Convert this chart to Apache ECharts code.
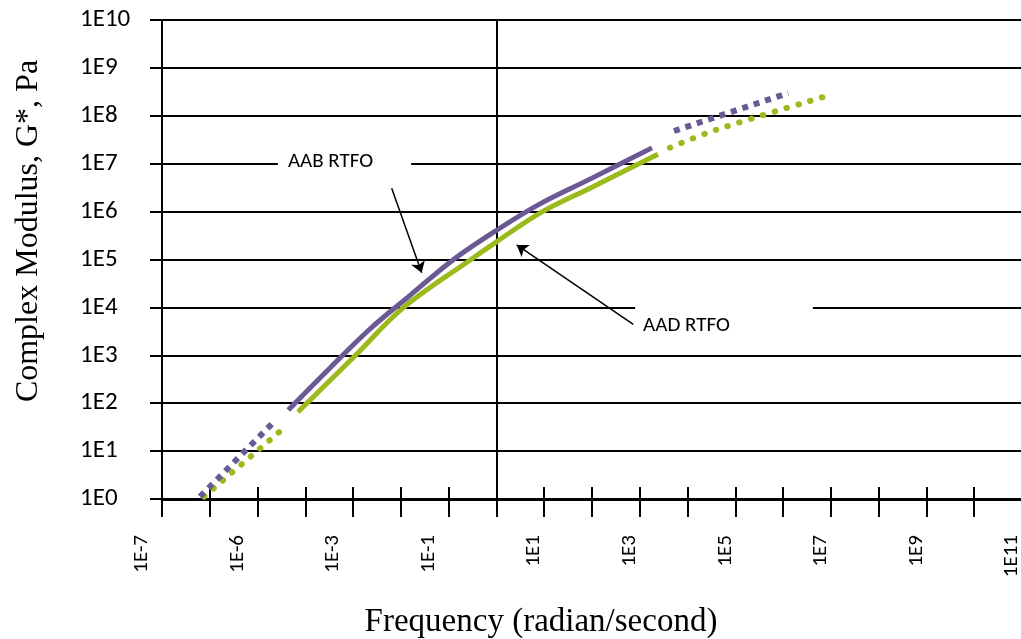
<!DOCTYPE html>
<html>
<head>
<meta charset="utf-8">
<script src="https://cdn.jsdelivr.net/npm/echarts@6/dist/echarts.min.js"></script>
<style>
  html, body { margin: 0; padding: 0; background: #ffffff; }
  #chart { width: 1021px; height: 639px; }
</style>
</head>
<body>
<div id="chart"></div>
<script>
// Master curves of complex modulus |G*| (Pa) against reduced frequency (rad/s).
// AAB RTFO: low-frequency extension, measured range, high-frequency extension
const aabLowFreq  = [6.24e-7, 2.21e-5];
const aabLowG     = [1.12, 41.1];
const aabFreq     = [4.40e-5, 3.16e-4, 2.25e-3, 1.58e-2, 0.123, 1.03, 8.15, 100, 1800];
const aabG        = [72.1, 525, 3540, 1.81e4, 9.8e4, 4.13e5, 1.45e6, 5.0e6, 2.14e7];
const aabHighFreq = [5200, 1.28e6];
const aabHighG    = [4.82e7, 2.99e8];

// AAD RTFO: low-frequency extension, measured range, high-frequency extension
const aadLowFreq  = [7.57e-7, 4.28e-5];
const aadLowG     = [1.12, 35.6];
const aadFreq     = [7.01e-5, 1.10e-3, 1.11e-2, 0.282, 1.0, 8.15, 100, 2400];
const aadG        = [65.5, 980, 9770, 9.8e4, 2.34e5, 9.3e5, 3.24e6, 1.58e7];
const aadHighFreq = [4290, 3.87e4, 1.09e7];
const aadHighG    = [2.16e7, 5.06e7, 2.81e8];

// Axis tick labels (one tick per decade)
const xLabelExponents = [-7, -5, -3, -1, 1, 3, 5, 7, 9, 11];
const xLabelTexts     = ['1E-7', '1E-6', '1E-3', '1E-1', '1E1', '1E3', '1E5', '1E7', '1E9', '1E11'];
const yLabelTexts     = ['1E0', '1E1', '1E2', '1E3', '1E4', '1E5', '1E6', '1E7', '1E8', '1E9', '1E10'];

const PURPLE = '#6b5994';
const GREEN = '#9bba1c';
const LABEL_FONT = 'Carlito, Lato, sans-serif';
const TITLE_FONT = '"Liberation Serif", "Times New Roman", serif';

// Both axes are logarithmic: points are placed by their decade exponents
const lg = v => Math.log10(v);
const zip = (xs, ys) => xs.map((x, i) => [lg(x), lg(ys[i])]);

// Rotated x labels; trailing blank lines nudge each label off its tick
function xLabel(value) {
  const i = xLabelExponents.indexOf(Math.round(value));
  if (i < 0) return '';
  const t = xLabelTexts[i];
  return t.indexOf('-') >= 0 ? t + '\n\n' : t + '\n';
}

const GRID_W = 860;
const xCommon = {
  type: 'value', min: -7, max: 11, interval: 1,
  position: 'bottom', splitLine: { show: false }
};
const yCommon = {
  type: 'value', min: 0, max: 10, interval: 1, position: 'left'
};

const chart = echarts.init(document.getElementById('chart'), null, { renderer: 'canvas' });

const solidCurve = { type: 'line', symbol: 'none', smooth: 0.35 };

chart.setOption({
  animation: false,
  backgroundColor: '#ffffff',
  grid: { left: 162, top: 20, width: GRID_W, height: 479, containLabel: false, outerBoundsMode: 'none' },
  xAxis: [
    Object.assign({}, xCommon, {
      axisLine: { show: true, onZero: false, lineStyle: { color: '#000', width: 3 } },
      axisTick: { show: true, inside: false, length: 18, lineStyle: { color: '#000', width: 2 } },
      axisLabel: {
        show: true, rotate: 90, margin: 36, color: '#000', fontFamily: LABEL_FONT, fontSize: 21,
        lineHeight: 20,
        formatter: xLabel
      }
    }),
    Object.assign({}, xCommon, {
      axisLine: { show: false, onZero: false },
      axisTick: { show: true, inside: true, length: 12, lineStyle: { color: '#000', width: 2 } },
      axisLabel: { show: false }
    })
  ],
  yAxis: [
    Object.assign({}, yCommon, {
      axisLine: { show: true, onZero: false, lineStyle: { color: '#000', width: 2 } },
      axisTick: { show: true, inside: false, length: 12, lineStyle: { color: '#000', width: 2 } },
      splitLine: { show: true, lineStyle: { color: '#000', width: 2 } },
      axisLabel: {
        show: true, margin: 82, align: 'left', color: '#000', fontFamily: LABEL_FONT, fontSize: 25,
        formatter: v => yLabelTexts[Math.round(v)] || ''
      }
    }),
    // vertical axis crossing at 1 rad/s, with cross tick marks
    Object.assign({}, yCommon, {
      offset: -GRID_W * 7 / 18,
      axisLine: { show: true, onZero: false, lineStyle: { color: '#000', width: 2 } },
      axisTick: { show: true, inside: true, length: 15, lineStyle: { color: '#000', width: 2 } },
      splitLine: { show: false }, axisLabel: { show: false }
    }),
    Object.assign({}, yCommon, {
      offset: -GRID_W * 7 / 18,
      axisLine: { show: false, onZero: false },
      axisTick: { show: true, inside: false, length: 15, lineStyle: { color: '#000', width: 2 } },
      splitLine: { show: false }, axisLabel: { show: false }
    })
  ],
  graphic: [
    {
      type: 'text', x: 541, y: 622,
      style: { text: 'Frequency (radian/second)', font: '33px ' + TITLE_FONT, fill: '#000',
               textAlign: 'center', textVerticalAlign: 'middle' }
    },
    {
      type: 'text', x: 29, y: 231, rotation: Math.PI / 2,
      style: { text: 'Complex Modulus, G*, Pa', font: '32px ' + TITLE_FONT, fill: '#000',
               textAlign: 'center', textVerticalAlign: 'middle' }
    }
  ],
  series: [
    {
      name: 'AAD RTFO low', type: 'line', symbol: 'none', data: zip(aadLowFreq, aadLowG),
      lineStyle: { color: GREEN, width: 6, type: [0.5, 11.8], cap: 'round' }
    },
    Object.assign({}, solidCurve, {
      name: 'AAD RTFO', data: zip(aadFreq, aadG),
      lineStyle: { color: GREEN, width: 5, cap: 'butt' }
    }),
    Object.assign({}, solidCurve, {
      name: 'AAD RTFO high', data: zip(aadHighFreq, aadHighG),
      lineStyle: { color: GREEN, width: 6, type: [0.5, 11.8], cap: 'round' }
    }),
    {
      name: 'AAB RTFO low', type: 'line', symbol: 'none', data: zip(aabLowFreq, aabLowG),
      lineStyle: { color: PURPLE, width: 6, type: [6, 6], cap: 'butt' }
    },
    Object.assign({}, solidCurve, {
      name: 'AAB RTFO', data: zip(aabFreq, aabG),
      lineStyle: { color: PURPLE, width: 5, cap: 'butt' },
      markLine: {
        silent: true, animation: false,
        symbol: ['none', 'arrow'], symbolSize: 11,
        lineStyle: { color: '#000', width: 1.5, type: 'solid' },
        label: { show: false },
        data: [
          [{ coord: [-2.193, 6.486] }, { coord: [-1.565, 4.724] }],
          [{ coord: [2.864, 3.647] }, { coord: [0.424, 5.303] }]
        ]
      },
      markPoint: {
        silent: true, animation: false,
        symbol: 'rect', symbolSize: 1, itemStyle: { color: 'rgba(0,0,0,0)' },
        label: {
          show: true, position: 'inside', color: '#000', fontFamily: LABEL_FONT, fontSize: 21,
          lineHeight: 22, backgroundColor: '#ffffff'
        },
        data: [
          { coord: [-3.18, 7.035], value: 'AAB RTFO',
            label: { formatter: 'AAB RTFO', padding: [12, 38, 12, 10] } },
          { coord: [4.762, 3.612], value: 'AAD RTFO',
            label: { formatter: 'AAD RTFO', padding: [12, 83, 12, 8] } }
        ]
      }
    }),
    {
      name: 'AAB RTFO high', type: 'line', symbol: 'none', data: zip(aabHighFreq, aabHighG),
      lineStyle: { color: PURPLE, width: 6, type: [6, 6], cap: 'butt' }
    }
  ]
});
</script>
</body>
</html>
